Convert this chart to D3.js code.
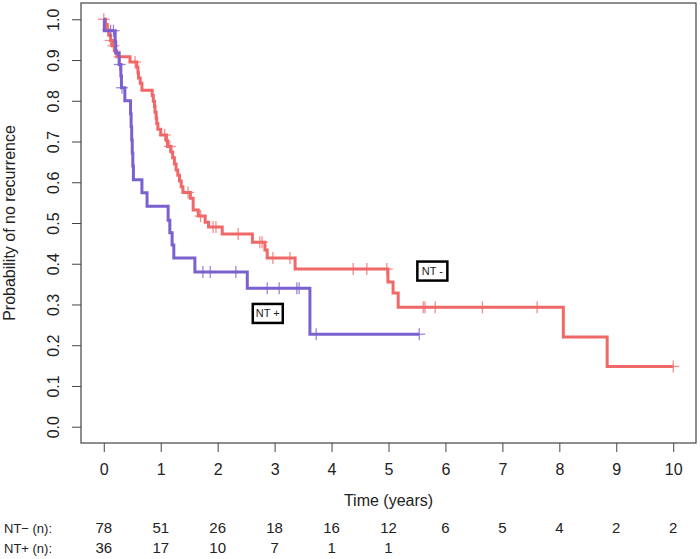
<!DOCTYPE html>
<html><head><meta charset="utf-8">
<script src="https://cdn.jsdelivr.net/npm/d3@7"></script>
<style>
body{margin:0;background:#fff}
text{font-family:"Liberation Sans",Arial,sans-serif;fill:#222}
</style>
</head><body>
<svg id="c" width="700" height="559"></svg>
<script>
// ---- data ----
const timeTicks = [0,1,2,3,4,5,6,7,8,9,10];
const probTicks = [0,0.1,0.2,0.3,0.4,0.5,0.6,0.7,0.8,0.9,1.0];
const probTickLabels = ["0.0","0.1","0.2","0.3","0.4","0.5","0.6","0.7","0.8","0.9","1.0"];

// NT- (red) : event times and survival after each event
const ntNegTimes = [0.03,0.06,0.09,0.12,0.15,0.19,0.23,0.46,0.58,0.60,0.61,0.64,0.67,0.85,0.87,0.89,0.90,0.92,0.93,0.95,1.00,1.10,1.12,1.18,1.21,1.24,1.27,1.30,1.33,1.36,1.39,1.52,1.57,1.66,1.78,1.84,2.08,2.61,2.83,2.87,3.36,4.99,5.08,5.17,8.07,8.84];
const ntNegSurv  = [0.987,0.974,0.961,0.948,0.935,0.922,0.908,0.895,0.882,0.869,0.856,0.843,0.826,0.813,0.799,0.786,0.772,0.758,0.744,0.730,0.716,0.702,0.688,0.674,0.660,0.645,0.630,0.617,0.603,0.589,0.575,0.561,0.532,0.517,0.502,0.490,0.473,0.453,0.434,0.414,0.387,0.355,0.328,0.293,0.220,0.148];
const ntNegCensor = [0.0,0.07,0.12,0.17,0.28,0.55,1.07,1.16,1.48,1.70,1.92,1.97,2.36,2.74,2.78,2.97,3.27,4.38,4.62,4.97,5.61,5.64,5.82,6.65,7.61,10.0];
const ntNegEnd = 10.0;

// NT+ (purple)
const ntPosTimes = [0.01,0.20,0.21,0.27,0.30,0.31,0.37,0.47,0.48,0.49,0.50,0.51,0.52,0.67,0.76,1.13,1.16,1.20,1.23,1.60,2.52,3.62];
const ntPosSurv  = [0.972,0.944,0.917,0.889,0.861,0.832,0.800,0.768,0.736,0.704,0.672,0.640,0.606,0.574,0.541,0.507,0.476,0.446,0.414,0.380,0.340,0.227];
const ntPosCensor = [0.12,0.17,0.28,0.32,1.74,1.87,2.32,2.87,3.08,3.39,3.43,3.73,5.54];
const ntPosEnd = 5.54;

// numbers at risk
const riskNeg = [78,51,26,18,16,12,6,5,4,2,2];
const riskPos = [36,17,10,7,1,1];
const riskLabels = ["NT\u2212 (n):","NT+ (n):"];
const groupLabels = ["NT -","NT +"];

const colNeg = "#F06868";
const colPos = "#7B60CF";

// ---- layout ----
const svg = d3.select("#c");
const L=81, R=696, T=3, B=443;
const x = d3.scaleLinear().domain([-0.4,10.4]).range([L,R]);
const y = d3.scaleLinear().domain([-0.04,1.04]).range([B,T]);

// axes
const xa = svg.append("g").attr("transform",`translate(0,${B})`)
  .call(d3.axisBottom(x).tickValues(timeTicks).tickSize(9).tickPadding(12).tickFormat(d3.format("d")));
xa.select(".domain").remove();
xa.selectAll("line").attr("stroke","#444");
xa.selectAll("text").attr("font-size",16).attr("fill","#222");

const ya = svg.append("g").attr("transform",`translate(${L},0)`)
  .call(d3.axisLeft(y).tickValues(probTicks).tickSize(9).tickFormat((d,i)=>probTickLabels[i]));
ya.select(".domain").remove();
ya.selectAll("line").attr("stroke","#444");
ya.selectAll("text").attr("font-size",16).attr("fill","#222")
  .attr("transform","rotate(-90)").attr("text-anchor","middle")
  .attr("x",0).attr("y",-22.3).attr("dy",0);

// box
svg.append("rect").attr("x",L).attr("y",T).attr("width",R-L).attr("height",B-T)
  .attr("fill","none").attr("stroke","#444").attr("stroke-width",1.2);

// axis titles
svg.append("text").attr("x",(L+R)/2).attr("y",506).attr("text-anchor","middle")
  .attr("font-size",16).text("Time (years)");
svg.append("text").attr("transform",`translate(15,${(T+B)/2}) rotate(-90)`)
  .attr("text-anchor","middle").attr("font-size",16).text("Probability of no recurrence");

// curves
function survAt(times, surv, t){
  let s = 1;
  for(let i=0;i<times.length;i++){ if(times[i] <= t) s = surv[i]; }
  return s;
}
const line = d3.line().x(d=>x(d[0])).y(d=>y(d[1])).curve(d3.curveStepAfter);

function drawCurve(times, surv, censor, end, col){
  const pts = [[0,1]].concat(times.map((t,i)=>[t,surv[i]]));
  pts.push([end, surv[surv.length-1]]);
  svg.append("path").attr("d",line(pts)).attr("fill","none")
    .attr("stroke",col).attr("stroke-width",3).attr("stroke-linejoin","miter");
  const g = svg.append("g").attr("stroke",col).attr("stroke-width",1.3).attr("opacity",0.75);
  censor.forEach(t=>{
    const cx = x(t), cy = y(survAt(times,surv,t));
    g.append("line").attr("x1",cx-6).attr("x2",cx+6).attr("y1",cy).attr("y2",cy);
    g.append("line").attr("x1",cx).attr("x2",cx).attr("y1",cy-6).attr("y2",cy+6);
  });
}
drawCurve(ntNegTimes, ntNegSurv, ntNegCensor, ntNegEnd, colNeg);
drawCurve(ntPosTimes, ntPosSurv, ntPosCensor, ntPosEnd, colPos);

// group labels
function boxLabel(t, s, txt){
  const g = svg.append("g").attr("transform",`translate(${x(t)},${y(s)})`);
  g.append("rect").attr("x",-15).attr("y",-9.5).attr("width",30).attr("height",19)
    .attr("fill","#fff").attr("stroke","#000").attr("stroke-width",2.5);
  g.append("text").attr("text-anchor","middle").attr("y",4).attr("font-size",11)
    .attr("fill","#000").text(txt);
}
boxLabel(5.77, 0.382, groupLabels[0]);
boxLabel(2.88, 0.278, groupLabels[1]);

// numbers at risk
const rows = [riskNeg, riskPos];
const rowY = [533, 553];
rows.forEach((vals, r)=>{
  svg.append("text").attr("x",4).attr("y",rowY[r]).attr("font-size",13).text(riskLabels[r]);
  vals.forEach((v,i)=>{
    svg.append("text").attr("x",x(timeTicks[i])).attr("y",rowY[r])
      .attr("text-anchor","middle").attr("font-size",15).text(v);
  });
});
</script>
</body></html>
